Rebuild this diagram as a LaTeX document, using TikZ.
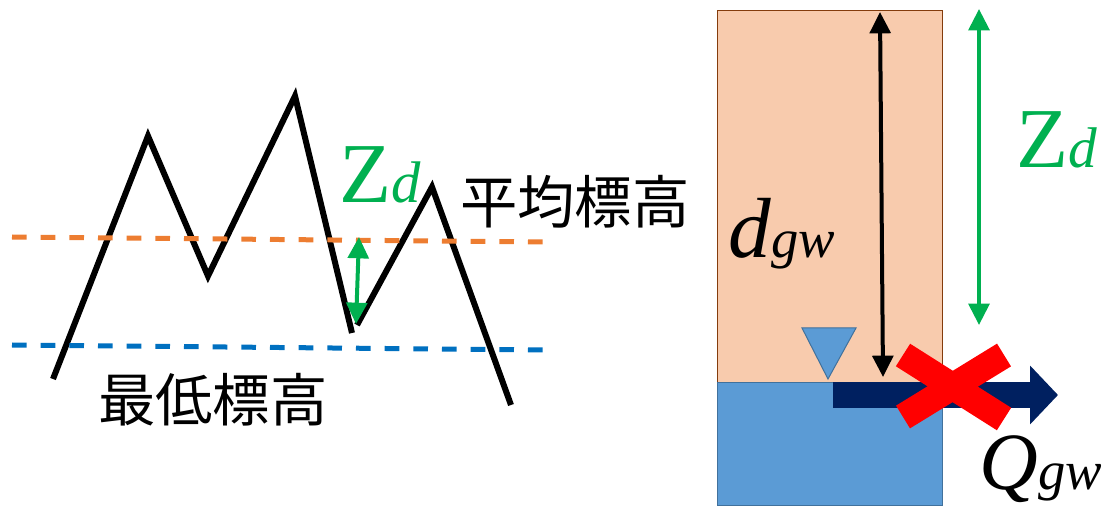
\documentclass[tikz,border=0pt]{standalone}
\usepackage{fontspec}
\setmainfont{Liberation Serif}
\newfontfamily\jpfont{Noto Sans CJK JP}
\usetikzlibrary{arrows.meta}

\definecolor{soiltan}{HTML}{F8CBAD}
\definecolor{soiledge}{HTML}{843C0C}
\definecolor{waterblue}{HTML}{5B9BD5}
\definecolor{wateredge}{HTML}{41719C}
\definecolor{meanorange}{HTML}{ED7D31}
\definecolor{lowblue}{HTML}{0070C0}
\definecolor{zdgreen}{HTML}{00B050}
\definecolor{flownavy}{HTML}{002060}

\begin{document}
\begin{tikzpicture}[x=0.75pt, y=-0.75pt, line join=miter,
  terrain/.style={line width=4.5pt, black},
  levelline/.style={line width=3.75pt, dash pattern=on 11pt off 10.5pt},
  dimarrow/.style={line width=3pt, {Triangle[width=15.5pt,length=16pt]}-{Triangle[width=15.5pt,length=16pt]}},
  bigsym/.style={inner sep=0pt, anchor=base west, font=\fontsize{64}{64}\selectfont},
  jplabel/.style={inner sep=0pt, anchor=base west, font=\jpfont\fontsize{43}{43}\selectfont}]
  \useasboundingbox (0,0) rectangle (1113,509);

  % Ground profile
  \draw[terrain] (53,379) -- (148,136) -- (208,276) -- (295,96) -- (352,333);
  \draw[terrain] (357,325) -- (432,187) -- (511,405);

  % Mean and lowest elevation
  \coordinate (M1) at (12,237);
  \coordinate (M2) at (546,242);
  \coordinate (L1) at (12,345);
  \coordinate (L2) at (546,350);
  \draw[levelline, meanorange] (M1) -- (M2);
  \draw[levelline, lowblue] (L1) -- (L2);

  % Labels (left)
  \node[jplabel] (meanlab) at (460,224) {平均標高};
  \node[jplabel] (lowlab) at (98,421) {最低標高};
  \node[bigsym, zdgreen] (zdleft) at (339,203) {Z{\fontsize{44}{44}\selectfont\textit{d}}};

  % Zd on the profile
  \coordinate (ZL1) at (359,237);
  \coordinate (ZL2) at (356,324);
  \draw[dimarrow, zdgreen] (ZL1) -- (ZL2);

  % Soil column and groundwater
  \draw[fill=soiltan, draw=soiledge, line width=0.75pt] (717,11) rectangle (942,382);
  \draw[fill=waterblue, draw=wateredge, line width=0.75pt] (717,382) rectangle (942,505);
  \draw[fill=waterblue, draw=wateredge, line width=0.75pt] (802,328) -- (856,328) -- (828,379) -- cycle;

  % Depth to groundwater
  \coordinate (D1) at (880,12);
  \coordinate (D2) at (883,377);
  \draw[dimarrow, black] (D1) -- (D2);
  \coordinate (ZR1) at (979,9);
  \coordinate (ZR2) at (979,325);
  \draw[dimarrow, zdgreen] (ZR1) -- (ZR2);

  % Groundwater outflow, crossed out
  \coordinate (Q1) at (833,395);
  \coordinate (Q2) at (1058,395);
  \draw[line width=19.5pt, flownavy, -{Triangle[width=43pt,length=21pt]}] (Q1) -- (Q2);
  \coordinate (X1) at (903,355);
  \coordinate (X2) at (1004,419);
  \coordinate (X3) at (903,417);
  \coordinate (X4) at (1004,355);
  \draw[line width=20pt, red] (X1) -- (X2);
  \draw[line width=20pt, red] (X3) -- (X4);

  % Labels (right)
  \node[bigsym] (dgw) at (728,258) {\textit{d}{\fontsize{41}{41}\selectfont\textit{gw}}};
  \node[bigsym, zdgreen] (zdright) at (1016,168) {Z{\fontsize{43}{43}\selectfont\textit{d}}};
  \node[bigsym, font=\fontsize{61}{61}\selectfont] (qgw) at (979,489) {\textit{Q}{\fontsize{41}{41}\selectfont\textit{gw}}};
\end{tikzpicture}
\end{document}
